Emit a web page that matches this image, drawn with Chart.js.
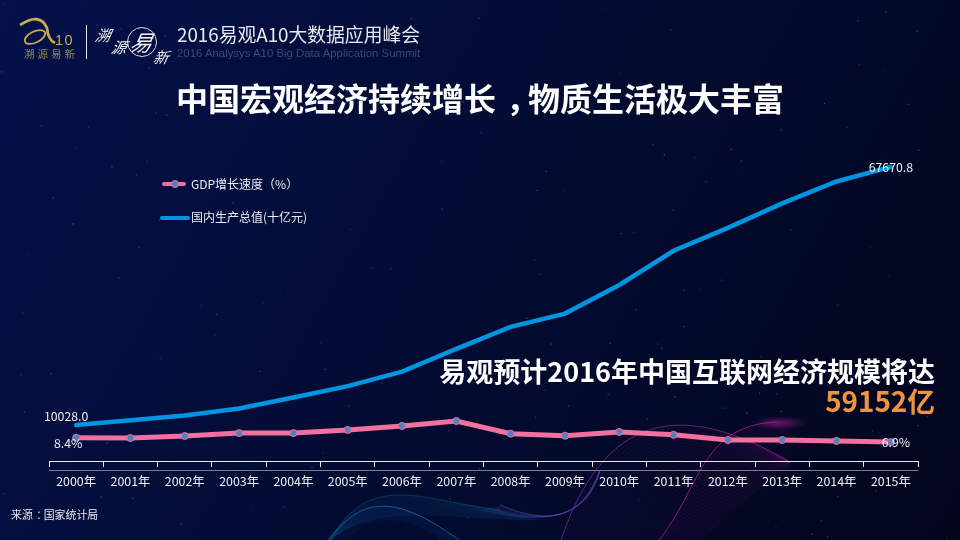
<!DOCTYPE html>
<html lang="zh">
<head>
<meta charset="utf-8">
<title>中国宏观经济持续增长</title>
<script src="https://cdn.jsdelivr.net/npm/chart.js@4/dist/chart.umd.min.js"></script>
<style>
  html, body { margin: 0; padding: 0; background: #020a2c; }
  body { width: 960px; height: 540px; position: relative; overflow: hidden; font-family: "Noto Sans CJK SC", "Noto Sans", sans-serif; color: #fff; }
  canvas { position: absolute; left: 0; top: 0; }
  .txt { position: absolute; white-space: nowrap; line-height: 1; }
  .punct { display: inline-block; transform: translateX(0.32em); }
  #head { left: 177px; top: 25px; font-size: 18.8px; color: #e8eaf2; }
  #sub { left: 177px; top: 48px; font-size: 11.4px; color: #3f4a6c; font-family: "Liberation Sans", sans-serif; }
  #title { left: 0; width: 960px; text-align: center; top: 81px; font-size: 32px; font-weight: 700; }
  #callout { right: 25px; top: 357px; font-size: 27px; font-weight: 700; }
  #amount { right: 25px; top: 387px; font-size: 27.8px; font-weight: 700; color: #f0953f; }
  #source { left: 11px; top: 509px; font-size: 10.9px; color: #e6e8ee; }
  #logo10 { left: 55px; top: 33px; font-size: 14.5px; letter-spacing: 1.5px; color: #c8a850; font-family: "Liberation Sans", sans-serif; }
  #logoCn { left: 24px; top: 49px; font-size: 10.5px; letter-spacing: 3px; color: #8f8558; }
  .brush { font-style: italic; color: #f2f2f2; transform: skewX(-12deg); }
  .leg { position: absolute; left: 191px; font-size: 12px; color: #e8eaf2; line-height: 1; white-space: nowrap; }
  .legLine { position: absolute; border-radius: 2px; }
  .legDot { position: absolute; width: 6px; height: 6px; border-radius: 50%; background: #4f81bd; border: 1px solid #f0709f; }
</style>
</head>
<body>
<canvas id="bg" width="960" height="540"></canvas>
<canvas id="chart" width="960" height="540"></canvas>

<div class="txt" id="logo10">10</div>
<div class="txt" id="logoCn">溯源易新</div>
<div class="txt brush" style="left:96px;top:27px;font-size:15px">溯</div>
<div class="txt brush" style="left:112px;top:39px;font-size:15px">源</div>
<div class="txt brush" style="left:131px;top:30px;font-size:22px">易</div>
<div class="txt brush" style="left:154px;top:49px;font-size:15px">新</div>
<div class="txt" id="head">2016易观A10大数据应用峰会</div>
<div class="txt" id="sub">2016 Analysys A10 Big Data Application Summit</div>
<div class="txt" id="title">中国宏观经济持续增长<span class="punct">，</span>物质生活极大丰富</div>
<div class="txt" id="callout">易观预计2016年中国互联网经济规模将达</div>
<div class="txt" id="amount">59152亿</div>
<div class="txt" id="source">来源<span class="punct">：</span>国家统计局</div>
<div id="legend"></div>

<script>
const years = ['2000年', '2001年', '2002年', '2003年', '2004年', '2005年', '2006年', '2007年',
  '2008年', '2009年', '2010年', '2011年', '2012年', '2013年', '2014年', '2015年'];
const growthRate = [8.4, 8.3, 9.0, 10.0, 10.0, 11.1, 12.5, 14.2, 9.8, 9.1, 10.4, 9.4, 7.6, 7.6, 7.3, 6.9];
const gdpValue = [10028.0, 11086, 12171, 13742, 16184, 18731, 21943, 27023,
  31951, 34908, 41303, 48930, 54037, 59524, 64397, 67670.8];

const PINK = '#f0709f';
const BLUE = '#0095e0';
const MARKER = '#4f81bd';

// background: gradient, dust and the wave ribbons along the bottom
function paintBackground() {
  const ctx = document.getElementById('bg').getContext('2d');
  const g = ctx.createLinearGradient(0, 0, 960, 540);
  g.addColorStop(0, '#04114a');
  g.addColorStop(0.45, '#030c34');
  g.addColorStop(1, '#02051c');
  ctx.fillStyle = g;
  ctx.fillRect(0, 0, 960, 540);

  let seed = 7;
  const next = () => (seed = (seed * 16807) % 2147483647) / 2147483647;
  for (let i = 0; i < 170; i++) {
    ctx.fillStyle = 'rgba(40,120,170,' + (0.2 + next() * 0.45) + ')';
    ctx.fillRect(next() * 960, next() * 540, 1.3, 1.3);
  }

  // each ribbon is a fan of curves between two bezier edges, only the first one is bright
  function ribbon(a, b, n, color, edge) {
    for (let i = 0; i <= n; i++) {
      const t = i / n;
      const p = a.map((v, k) => v + (b[k] - v) * t);
      ctx.beginPath();
      ctx.moveTo(p[0], p[1]);
      ctx.bezierCurveTo(p[2], p[3], p[4], p[5], p[6], p[7]);
      ctx.strokeStyle = i === 0 ? edge : color;
      ctx.lineWidth = i === 0 ? 1 : 0.5;
      ctx.stroke();
    }
  }
  ribbon([561, 540, 610, 395, 700, 410, 790, 462], [659, 540, 720, 510, 770, 490, 790, 462], 30, 'rgba(150,30,140,.22)', 'rgba(170,50,170,.6)');
  ribbon([659, 540, 700, 490, 700, 425, 777, 422], [700, 540, 745, 500, 780, 470, 800, 440], 20, 'rgba(190,25,140,.2)', 'rgba(205,30,150,.7)');
  ribbon([500, 505, 560, 530, 585, 510, 600, 470], [480, 510, 540, 525, 590, 520, 600, 470], 12, 'rgba(90,80,190,.25)', 'rgba(120,90,200,.5)');
  ribbon([330, 540, 370, 470, 420, 500, 500, 510], [330, 540, 380, 500, 450, 520, 540, 520], 22, 'rgba(20,110,170,.2)', 'rgba(20,120,180,.35)');
  ribbon([328, 540, 360, 500, 390, 490, 459, 540], [345, 540, 370, 515, 395, 510, 445, 540], 10, 'rgba(10,110,200,.2)', 'rgba(10,150,215,.6)');

  const glow = ctx.createRadialGradient(780, 423, 1, 780, 423, 28);
  glow.addColorStop(0, 'rgba(190,30,160,.5)');
  glow.addColorStop(1, 'rgba(190,30,160,0)');
  ctx.save();
  ctx.translate(0, 423 * 0.75);
  ctx.scale(1, 0.25);
  ctx.fillStyle = glow;
  ctx.fillRect(745, 375, 70, 100);
  ctx.restore();

  // logo
  ctx.strokeStyle = '#c8a850';
  ctx.lineWidth = 1.8;
  ctx.beginPath();
  ctx.ellipse(35, 37, 11, 5.5, -0.45, 0, Math.PI * 2);
  ctx.stroke();
  ctx.lineWidth = 2.8;
  ctx.beginPath();
  ctx.moveTo(20, 25);
  ctx.quadraticCurveTo(40, 12, 47, 28);
  ctx.quadraticCurveTo(48, 40, 55, 43);
  ctx.stroke();
  ctx.fillStyle = '#e8e8e8';
  ctx.fillRect(86, 25, 1, 34);
  ctx.strokeStyle = '#d8d8d8';
  ctx.lineWidth = 1;
  ctx.beginPath();
  ctx.arc(142, 42, 14.5, 0, Math.PI * 2);
  ctx.stroke();
}
paintBackground();

// value labels on the first and last points, plus the grey base line under the ticks
const chartExtras = {
  id: 'chartExtras',
  beforeDatasetsDraw(chart) {
    const { ctx, chartArea, scales } = chart;
    const y0 = Math.round(scales.y.getPixelForValue(0)) + 0.5;
    ctx.save();
    ctx.strokeStyle = '#7d7d80';
    ctx.lineWidth = 1;
    ctx.beginPath();
    ctx.moveTo(chartArea.left, y0);
    ctx.lineTo(chartArea.right, y0);
    ctx.stroke();
    ctx.restore();
  },
  afterDatasetsDraw(chart) {
    const { ctx } = chart;
    const last = years.length - 1;
    const gdp = chart.getDatasetMeta(1).data;
    const rate = chart.getDatasetMeta(0).data;
    ctx.save();
    ctx.font = '12.3px "Noto Sans CJK SC"';
    ctx.fillStyle = '#f0f0f4';
    ctx.textAlign = 'center';
    ctx.textBaseline = 'middle';
    ctx.fillText(gdpValue[0].toFixed(1), gdp[0].x - 10, gdp[0].y - 9);
    ctx.fillText(gdpValue[last].toFixed(1), gdp[last].x, gdp[last].y);
    ctx.fillText(growthRate[0].toFixed(1) + '%', rate[0].x - 8, rate[0].y + 6);
    ctx.fillText(growthRate[last].toFixed(1) + '%', rate[last].x + 5, rate[last].y);
    ctx.restore();
  }
};

const chart = new Chart(document.getElementById('chart'), {
  type: 'line',
  data: {
    labels: years,
    datasets: [
      {
        label: 'GDP增长速度（%）',
        data: growthRate,
        yAxisID: 'y2',
        borderColor: PINK,
        borderWidth: 5,
        pointRadius: 3.5,
        pointBackgroundColor: MARKER,
        pointBorderColor: PINK,
        pointBorderWidth: 1,
        tension: 0
      },
      {
        label: '国内生产总值(十亿元)',
        data: gdpValue,
        yAxisID: 'y',
        borderColor: BLUE,
        borderWidth: 4.5,
        borderCapStyle: 'round',
        pointRadius: 0,
        tension: 0
      }
    ]
  },
  options: {
    responsive: false,
    animation: false,
    layout: { padding: { left: 49, right: 42, top: 134, bottom: 70 } },
    scales: {
      x: {
        offset: true,
        position: { y2: 0 },
        grid: { offset: true, drawOnChartArea: false, tickLength: 5, tickColor: '#e8e8f0', tickWidth: 1 },
        border: { color: '#e8e8f0', width: 1 },
        ticks: { color: '#eef0f4', font: { size: 12.4, family: '"Noto Sans CJK SC"' }, padding: 7, maxRotation: 0, autoSkip: false }
      },
      y: { display: false, min: 0, max: 75000 },
      y2: { display: false, min: -2.81, max: 113.85 }
    },
    plugins: {
      legend: { display: false },
      tooltip: { enabled: false }
    }
  },
  plugins: [chartExtras]
});

// legend on the page, texts taken from the datasets
const legendBox = document.getElementById('legend');
chart.data.datasets.forEach((ds, i) => {
  const y = i === 0 ? 184 : 217.5;
  const line = document.createElement('div');
  line.className = 'legLine';
  line.style.cssText = `left:${i === 0 ? 162 : 160}px;width:${i === 0 ? 24 : 30}px;top:${y - 2}px;height:4px;background:${ds.borderColor}`;
  legendBox.appendChild(line);
  if (i === 0) {
    const dot = document.createElement('div');
    dot.className = 'legDot';
    dot.style.cssText = `left:171px;top:${y - 4}px`;
    legendBox.appendChild(dot);
  }
  const text = document.createElement('div');
  text.className = 'leg';
  text.style.top = (y - 6.5) + 'px';
  text.textContent = ds.label;
  legendBox.appendChild(text);
});
</script>
</body>
</html>
